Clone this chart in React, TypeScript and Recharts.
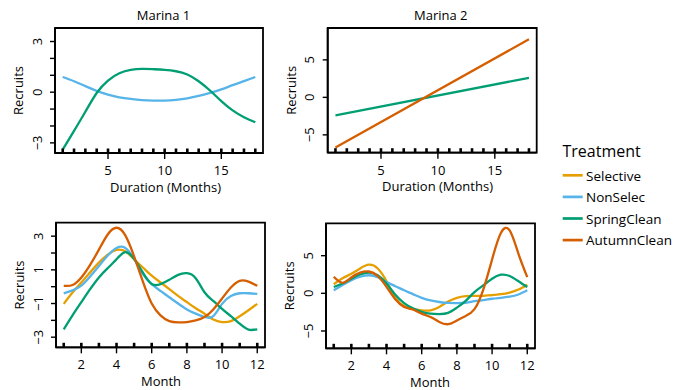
import { Line, LineChart, ReferenceArea, XAxis, YAxis } from "recharts";

const FONT = "'Open Sans', sans-serif";

const TREATMENTS = ["Selective", "NonSelec", "SpringClean", "AutumnClean"];
const TREATMENT_COLORS: Record<string, string> = {
  Selective: "#E69F00",
  NonSelec: "#56B4E9",
  SpringClean: "#009E73",
  AutumnClean: "#D55E00",
};

// duration effect, Marina 1 (x = months of duration)
const durationMonths = [1, 2, 3, 4, 5, 6, 7, 8, 9, 10, 11, 12, 13, 14, 15, 16, 17, 18];
const m1DurNonSelec = [0.9, 0.65, 0.36, 0.08, -0.14, -0.3, -0.4, -0.47, -0.5, -0.5, -0.45, -0.36, -0.22, -0.04, 0.17, 0.42, 0.66, 0.9];
const m1DurSpringClean = [-3.4, -2.29, -1.16, -0.05, 0.69, 1.12, 1.32, 1.38, 1.36, 1.32, 1.24, 1.05, 0.65, 0.1, -0.53, -1.08, -1.48, -1.78];

// duration effect, Marina 2 (straight lines)
const durationEnds = [1, 18];
const m2DurSpringClean = [-2.4, 2.6];
const m2DurAutumnClean = [-6.7, 7.75];

// month effect
const months = [1, 1.5, 2, 2.5, 3, 3.5, 4, 4.5, 5, 5.5, 6, 6.5, 7, 7.5, 8, 8.5, 9, 9.5, 10, 10.5, 11, 11.5, 12];
const m1MonSelective = [-1.02, -0.35, 0.25, 0.85, 1.43, 1.9, 2.18, 2.1, 1.63, 1.14, 0.65, 0.25, -0.14, -0.55, -0.92, -1.28, -1.61, -1.95, -2.1, -2.05, -1.76, -1.4, -1.02];
const m1MonNonSelec = [-0.4, -0.22, 0.06, 0.6, 1.23, 1.85, 2.3, 2.3, 1.65, 0.75, 0.15, -0.25, -0.63, -1.0, -1.35, -1.6, -1.8, -1.75, -1.02, -0.55, -0.39, -0.39, -0.43];
const m1MonSpringClean = [-2.53, -1.7, -0.92, -0.15, 0.55, 1.1, 1.63, 2.05, 1.65, 0.84, 0.16, 0.15, 0.41, 0.7, 0.8, 0.5, -0.33, -0.85, -1.32, -1.75, -2.2, -2.55, -2.53];
const m1MonAutumnClean = [0.05, 0.1, 0.55, 1.3, 2.2, 3.1, 3.5, 3.05, 1.8, 0.3, -1.0, -1.7, -2.05, -2.12, -2.1, -2.0, -1.8, -1.35, -0.7, -0.05, 0.35, 0.3, 0.05];

const m2MonSelective = [1.2, 2.0, 2.6, 3.3, 3.8, 3.3, 1.6, -0.6, -1.7, -2.1, -2.25, -2.25, -1.8, -1.1, -0.6, -0.38, -0.35, -0.33, -0.25, -0.12, 0.1, 0.5, 1.15];
const m2MonNonSelec = [0.4, 1.1, 1.75, 2.2, 2.4, 2.15, 1.5, 0.95, 0.4, -0.1, -0.6, -0.95, -1.15, -1.28, -1.3, -1.25, -1.05, -0.9, -0.72, -0.6, -0.45, -0.15, 0.4];
const m2MonSpringClean = [0.84, 1.3, 1.95, 2.5, 2.75, 2.4, 1.3, -0.2, -1.3, -2.0, -2.45, -2.7, -2.75, -2.6, -1.9, -1.0, 0.17, 1.06, 1.94, 2.47, 2.3, 1.6, 0.84];
const m2MonAutumnClean = [2.2, 1.4, 2.1, 2.75, 2.9, 2.3, 0.85, -0.8, -1.8, -2.15, -2.7, -3.15, -3.8, -4.1, -3.6, -3.0, -2.1, 0.5, 4.5, 8.0, 8.35, 5.25, 2.16];

// axis ticks and rug positions
const durationRug = [1, 2, 3, 4, 5, 6, 7, 8, 9, 10, 11, 12, 13, 14, 15, 16, 17, 18];
const durationLabels = [5, 10, 15];
const monthRug = [1, 2, 3, 4, 5, 6, 7, 8, 9, 10, 11, 12];
const monthLabels = [2, 4, 6, 8, 10, 12];
const marina1YTicks = [-3, -2, -1, 0, 1, 2, 3];
const marina1DurYLabels = [-3, 0, 3];
const marina1MonYLabels = [-3, -1, 1, 3];
const marina2YTicks = [-5, 0, 5];

function toRows(x: number[], series: Record<string, number[]>) {
  return x.map((v, i) => {
    const row: Record<string, number> = { x: v };
    Object.keys(series).forEach((k) => {
      row[k] = series[k][i];
    });
    return row;
  });
}

const fmt = (v: number) => (v < 0 ? `\u2212${Math.abs(v)}` : `${v}`);

const textStyle = { fontFamily: FONT, fontSize: 13, fill: "#000" };

type PanelProps = {
  left: number;
  top: number;
  width: number;
  height: number;
  box: { l: number; t: number; r: number; b: number };
  rows: Record<string, number>[];
  keys: string[];
  xDomain: [number, number];
  yDomain: [number, number];
  xRug: number[];
  xLabels: number[];
  yTicks: number[];
  yLabels: number[];
  xTitle: string;
  xTitleX: number;
  title?: string;
  titleX?: number;
};

function Panel(p: PanelProps) {
  const { box } = p;
  const XTick = (props: any) => {
    const { x, y, payload } = props;
    const major = p.xLabels.includes(payload.value);
    return (
      <g>
        <line x1={x} x2={x} y1={y} y2={y - 4.5} stroke="#000" strokeWidth={2.6} />
        {major && <line x1={x} x2={x} y1={y} y2={y + 6} stroke="#000" strokeWidth={1.4} />}
        {major && (
          <text x={x} y={y + 21.8} textAnchor="middle" {...textStyle}>
            {payload.value}
          </text>
        )}
      </g>
    );
  };
  const YTick = (props: any) => {
    const { x, y, payload } = props;
    const show = p.yLabels.includes(payload.value);
    const tx = x - 13.3;
    return (
      <g>
        <line x1={x} x2={x - 5} y1={y} y2={y} stroke="#000" strokeWidth={1.4} />
        {show && (
          <text x={tx} y={y} transform={`rotate(-90 ${tx} ${y})`} textAnchor="middle" {...textStyle}>
            {fmt(payload.value)}
          </text>
        )}
      </g>
    );
  };
  const midY = (box.t + box.b) / 2;
  return (
    <div style={{ position: "absolute", left: p.left, top: p.top }}>
      <LineChart
        width={p.width}
        height={p.height}
        data={p.rows}
        margin={{ top: box.t, right: p.width - box.r, bottom: 0, left: 0 }}
      >
        <XAxis
          dataKey="x"
          type="number"
          domain={p.xDomain}
          allowDataOverflow
          ticks={p.xRug}
          interval={0}
          tickSize={0}
          tickMargin={0}
          tickLine={false}
          tick={XTick}
          height={p.height - box.b}
          axisLine={{ stroke: "#000", strokeWidth: 1.8 }}
          label={{
            content: () => (
              <text x={p.xTitleX} y={box.b + 38.5} textAnchor="middle" {...textStyle}>
                {p.xTitle}
              </text>
            ),
          }}
        />
        <YAxis
          type="number"
          domain={p.yDomain}
          allowDataOverflow
          ticks={p.yTicks}
          interval={0}
          tickSize={0}
          tickMargin={0}
          tickLine={false}
          tick={YTick}
          width={box.l}
          axisLine={{ stroke: "#000", strokeWidth: 1.8 }}
          label={{
            content: () => (
              <text
                x={box.l - 31.8}
                y={midY}
                transform={`rotate(-90 ${box.l - 31.8} ${midY})`}
                textAnchor="middle"
                {...textStyle}
              >
                Recruits
              </text>
            ),
          }}
        />
        {p.keys.map((k) => (
          <Line
            key={k}
            dataKey={k}
            type="natural"
            stroke={TREATMENT_COLORS[k]}
            strokeWidth={2.3}
            dot={false}
            activeDot={false}
            isAnimationActive={false}
          />
        ))}
        <ReferenceArea
          x1={p.xDomain[0]}
          x2={p.xDomain[1]}
          y1={p.yDomain[0]}
          y2={p.yDomain[1]}
          fill="none"
          fillOpacity={0}
          stroke="#000"
          strokeWidth={1.8}
          strokeOpacity={1}
          ifOverflow="visible"
          label={{
            content: () =>
              p.title ? (
                <text x={p.titleX} y={box.t - 8.5} textAnchor="middle" {...textStyle}>
                  {p.title}
                </text>
              ) : null,
          }}
        />
      </LineChart>
    </div>
  );
}

function TreatmentLegend() {
  const rowY = [175.3, 196.9, 218.5, 240.1];
  return (
    <svg width={688} height={390} style={{ position: "absolute", left: 0, top: 0, pointerEvents: "none" }}>
      <text x={562.5} y={157.3} fontFamily={FONT} fontSize={16} fill="#000">
        Treatment
      </text>
      {TREATMENTS.map((t, i) => (
        <g key={t}>
          <line x1={562.7} x2={582.7} y1={rowY[i]} y2={rowY[i]} stroke={TREATMENT_COLORS[t]} strokeWidth={2.7} />
          <text x={586} y={rowY[i] + 5.3} fontFamily={FONT} fontSize={13.5} fill="#000">
            {t}
          </text>
        </g>
      ))}
    </svg>
  );
}

export default function App() {
  const m1Dur = toRows(durationMonths, { NonSelec: m1DurNonSelec, SpringClean: m1DurSpringClean });
  const m2Dur = toRows(durationEnds, { SpringClean: m2DurSpringClean, AutumnClean: m2DurAutumnClean });
  const m1Mon = toRows(months, {
    Selective: m1MonSelective,
    NonSelec: m1MonNonSelec,
    SpringClean: m1MonSpringClean,
    AutumnClean: m1MonAutumnClean,
  });
  const m2Mon = toRows(months, {
    Selective: m2MonSelective,
    NonSelec: m2MonNonSelec,
    SpringClean: m2MonSpringClean,
    AutumnClean: m2MonAutumnClean,
  });

  return (
    <div style={{ position: "absolute", left: 0, top: 0, width: 688, height: 390, background: "#fff", fontFamily: FONT }}>
      <Panel
        left={0}
        top={0}
        width={290}
        height={200}
        box={{ l: 55, t: 28, r: 263, b: 153 }}
        rows={m1Dur}
        keys={["NonSelec", "SpringClean"]}
        xDomain={[0.32, 18.68]}
        yDomain={[-3.6, 3.8]}
        xRug={durationRug}
        xLabels={durationLabels}
        yTicks={marina1YTicks}
        yLabels={marina1DurYLabels}
        xTitle="Duration (Months)"
        xTitleX={165.5}
        title="Marina 1"
        titleX={163.5}
      />
      <Panel
        left={280}
        top={0}
        width={280}
        height={200}
        box={{ l: 47.7, t: 28, r: 256.7, b: 152.7 }}
        rows={m2Dur}
        keys={["SpringClean", "AutumnClean"]}
        xDomain={[0.32, 18.68]}
        yDomain={[-7.38, 9.25]}
        xRug={durationRug}
        xLabels={durationLabels}
        yTicks={marina2YTicks}
        yLabels={marina2YTicks}
        xTitle="Duration (Months)"
        xTitleX={157.5}
        title="Marina 2"
        titleX={160.8}
      />
      <Panel
        left={0}
        top={200}
        width={290}
        height={190}
        box={{ l: 56, t: 22.7, r: 265, b: 147.3 }}
        rows={m1Mon}
        keys={TREATMENTS}
        xDomain={[0.56, 12.44]}
        yDomain={[-3.6, 3.8]}
        xRug={monthRug}
        xLabels={monthLabels}
        yTicks={marina1YTicks}
        yLabels={marina1MonYLabels}
        xTitle="Month"
        xTitleX={161}
      />
      <Panel
        left={280}
        top={200}
        width={280}
        height={190}
        box={{ l: 46, t: 23.3, r: 255, b: 148.3 }}
        rows={m2Mon}
        keys={TREATMENTS}
        xDomain={[0.56, 12.44]}
        yDomain={[-7.3, 9.3]}
        xRug={monthRug}
        xLabels={monthLabels}
        yTicks={marina2YTicks}
        yLabels={marina2YTicks}
        xTitle="Month"
        xTitleX={150}
      />
      <TreatmentLegend />
    </div>
  );
}
